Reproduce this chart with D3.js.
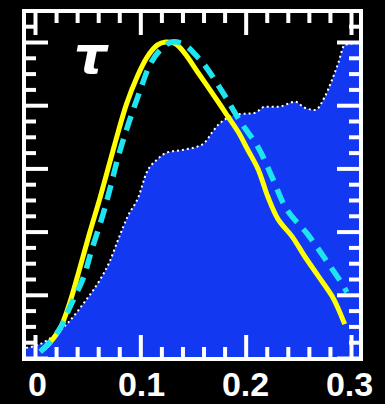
<!DOCTYPE html>
<html>
<head>
<meta charset="utf-8">
<script src="https://cdn.jsdelivr.net/npm/d3@7"></script>
<style>
  html, body { margin: 0; padding: 0; background: #000; }
  svg { display: block; }
</style>
</head>
<body>
<svg id="chart" width="385" height="404"></svg>
<script>
// Shaded profile (blue fill, dotted white edge)
const fillX = [-0.0085, 0.0047, 0.030, 0.049, 0.062, 0.071, 0.079, 0.088, 0.098, 0.106, 0.116, 0.125, 0.141, 0.154, 0.161, 0.168, 0.174, 0.180, 0.190, 0.209, 0.218, 0.231, 0.247, 0.256, 0.266, 0.275, 0.282, 0.288, 0.294, 0.3077];
const fillY = [0.032, 0.044, 0.107, 0.186, 0.249, 0.306, 0.375, 0.448, 0.508, 0.587, 0.628, 0.650, 0.659, 0.669, 0.681, 0.713, 0.738, 0.754, 0.770, 0.776, 0.795, 0.795, 0.811, 0.792, 0.785, 0.826, 0.880, 0.934, 0.991, 0.997];

// Solid yellow curve
const solidX = [0.005, 0.014, 0.024, 0.033, 0.043, 0.052, 0.062, 0.076, 0.087, 0.097, 0.106, 0.116, 0.124, 0.133, 0.142, 0.155, 0.174, 0.183, 0.193, 0.202, 0.212, 0.221, 0.231, 0.244, 0.256, 0.269, 0.282, 0.288, 0.294];
const solidY = [0.020, 0.048, 0.095, 0.175, 0.290, 0.397, 0.510, 0.680, 0.805, 0.890, 0.950, 0.990, 1.000, 0.995, 0.965, 0.902, 0.810, 0.765, 0.715, 0.659, 0.596, 0.511, 0.438, 0.385, 0.322, 0.259, 0.196, 0.155, 0.107];

// Dashed cyan curve
const dashX = [0.005, 0.014, 0.024, 0.033, 0.046, 0.054, 0.064, 0.071, 0.079, 0.089, 0.100, 0.109, 0.119, 0.130, 0.142, 0.155, 0.161, 0.178, 0.195, 0.212, 0.226, 0.239, 0.259, 0.277, 0.293, 0.296];
const dashY = [0.020, 0.050, 0.095, 0.160, 0.255, 0.344, 0.448, 0.533, 0.637, 0.744, 0.849, 0.927, 0.975, 1.000, 0.991, 0.950, 0.927, 0.842, 0.748, 0.666, 0.565, 0.470, 0.391, 0.306, 0.227, 0.208];

// Axis ticks and labels
const xMajor = [0, 0.1, 0.2, 0.3];
const xLabels = ["0", "0.1", "0.2", "0.3"];
const xMinorStep = 0.02;
const yMajor = [0, 0.2, 0.4, 0.6, 0.8, 1.0];
const yMinorStep = 0.05;
const panelLabel = "τ";

const svg = d3.select("#chart");
const W = 385, H = 404;

// Plot frame (inner edges)
const frame = { left: 26, right: 359, top: 13, bottom: 357 };
const frameStroke = 4;

const x = d3.scaleLinear().domain([0, 0.3]).range([35, 351]);
const y = d3.scaleLinear().domain([0, 1]).range([358, 42]);

svg.append("rect").attr("width", W).attr("height", H).attr("fill", "#000");

svg.append("defs").append("clipPath").attr("id", "plotClip")
  .append("rect")
  .attr("x", frame.left).attr("y", frame.top)
  .attr("width", frame.right - frame.left)
  .attr("height", frame.bottom - frame.top);

const plot = svg.append("g").attr("clip-path", "url(#plotClip)");

const fillData = fillX.map((v, i) => [v, fillY[i]]);
const solidData = solidX.map((v, i) => [v, solidY[i]]);
const dashData = dashX.map((v, i) => [v, dashY[i]]);

const area = d3.area()
  .x(d => x(d[0]))
  .y0(y(-0.05))
  .y1(d => y(d[1]))
  .curve(d3.curveMonotoneX);

const edge = d3.line()
  .x(d => x(d[0]))
  .y(d => y(d[1]))
  .curve(d3.curveMonotoneX);

const line = d3.line()
  .x(d => x(d[0]))
  .y(d => y(d[1]))
  .curve(d3.curveCatmullRom.alpha(0.5));

plot.append("path")
  .datum(fillData)
  .attr("d", area)
  .attr("fill", "#1238f2");

plot.append("path")
  .datum(fillData)
  .attr("d", edge)
  .attr("fill", "none")
  .attr("stroke", "#fff")
  .attr("stroke-width", 2)
  .attr("stroke-dasharray", "2,3");

plot.append("path")
  .datum(solidData)
  .attr("d", line)
  .attr("fill", "none")
  .attr("stroke", "#ffff00")
  .attr("stroke-width", 5)
  .attr("stroke-linejoin", "round");

plot.append("path")
  .datum(dashData)
  .attr("d", line)
  .attr("fill", "none")
  .attr("stroke", "#1ee4f0")
  .attr("stroke-width", 5.5)
  .attr("stroke-dasharray", "15,9");

// Tick marks on all four sides, pointing inward
const xMinor = d3.range(xMinorStep, 0.3, xMinorStep)
  .filter(v => xMajor.every(m => Math.abs(m - v) > 1e-6));
const yMinor = d3.range(yMinorStep, 1.1, yMinorStep)
  .filter(v => yMajor.every(m => Math.abs(m - v) > 1e-6));

const majorLen = 22, minorLen = 10;

function tickAxis(axisFn, scale, values, len, transform) {
  const a = axisFn(scale).tickValues(values).tickSize(-len).tickFormat("");
  const g = svg.append("g").attr("transform", transform).call(a);
  g.select(".domain").remove();
  g.selectAll(".tick line")
    .attr("stroke", "#fff")
    .attr("stroke-width", 4);
  return g;
}

tickAxis(d3.axisBottom, x, xMajor, majorLen, `translate(0,${frame.bottom})`);
tickAxis(d3.axisBottom, x, xMinor, minorLen, `translate(0,${frame.bottom})`);
tickAxis(d3.axisTop, x, xMajor, majorLen, `translate(0,${frame.top})`);
tickAxis(d3.axisTop, x, xMinor, minorLen, `translate(0,${frame.top})`);
tickAxis(d3.axisLeft, y, yMajor, majorLen, `translate(${frame.left},0)`);
tickAxis(d3.axisLeft, y, yMinor, minorLen, `translate(${frame.left},0)`);
tickAxis(d3.axisRight, y, yMajor, majorLen, `translate(${frame.right},0)`);
tickAxis(d3.axisRight, y, yMinor, minorLen, `translate(${frame.right},0)`);

// Frame
svg.append("rect")
  .attr("x", frame.left - frameStroke / 2)
  .attr("y", frame.top - frameStroke / 2)
  .attr("width", frame.right - frame.left + frameStroke)
  .attr("height", frame.bottom - frame.top + frameStroke)
  .attr("fill", "none")
  .attr("stroke", "#fff")
  .attr("stroke-width", frameStroke);

// Bottom axis labels (slightly tucked in at the ends)
const xLabelPos = x.copy().range([37, 349]);
const labelAxis = d3.axisBottom(xLabelPos)
  .tickValues(xMajor)
  .tickSize(0)
  .tickPadding(0)
  .tickFormat((d, i) => xLabels[i]);
const lg = svg.append("g").call(labelAxis);
lg.select(".domain").remove();
lg.selectAll(".tick text")
  .attr("y", 396)
  .attr("dy", null)
  .attr("fill", "#fff")
  .attr("font-family", "'Liberation Sans', Arial, sans-serif")
  .attr("font-weight", "bold")
  .attr("font-size", 34)
  .attr("text-anchor", "middle");

// Panel label
svg.append("text")
  .attr("x", 74)
  .attr("y", 73)
  .attr("fill", "#fff")
  .attr("font-family", "'DejaVu Sans', sans-serif")
  .attr("font-weight", "bold")
  .attr("font-style", "italic")
  .attr("font-size", 52)
  .text(panelLabel);
</script>
</body>
</html>
